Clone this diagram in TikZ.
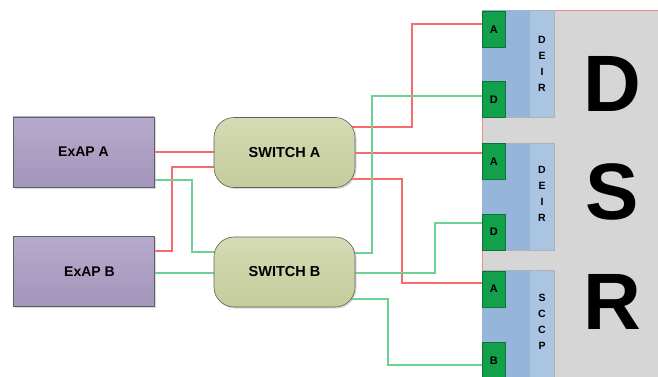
\documentclass[tikz,border=0pt]{standalone}
\usepackage{fontspec}
\setmainfont{Liberation Sans}
\usetikzlibrary{backgrounds,shadows}
\definecolor{exapT}{HTML}{B7AACC}
\definecolor{exapB}{HTML}{A395BB}
\definecolor{swT}{HTML}{D5DBB3}
\definecolor{swB}{HTML}{C4CC9C}
\definecolor{dsrgray}{HTML}{D6D6D6}
\definecolor{bluel}{HTML}{A9C5E2}
\definecolor{blued}{HTML}{95B5DA}
\definecolor{portg}{HTML}{12A04A}
\definecolor{portgd}{HTML}{0B7535}
\definecolor{redl}{HTML}{F76B6B}
\definecolor{greenl}{HTML}{6BD392}
\begin{document}
\begin{tikzpicture}[x=1pt,y=-1pt,
  exap/.style={draw=gray!75!black, line width=0.6pt, top color=exapT, bottom color=exapB,
    minimum width=141pt, minimum height=70pt, inner sep=0pt,
    font=\bfseries\fontsize{14}{16}\selectfont,
    drop shadow={shadow xshift=1.5pt, shadow yshift=-1.5pt, fill=gray!60}},
  switchbox/.style={draw=gray!75!black, line width=0.6pt, top color=swT, bottom color=swB,
    rounded corners=20pt, minimum width=141pt, minimum height=70pt, inner sep=0pt,
    font=\bfseries\fontsize{14.5}{16}\selectfont,
    drop shadow={shadow xshift=1.5pt, shadow yshift=-1.5pt, fill=gray!60}},
  blueblock/.style={fill=bluel, draw=gray!60, line width=0.4pt, anchor=north west,
    minimum width=72pt, minimum height=107pt, inner sep=0pt},
  blueband/.style={fill=blued, anchor=north west, minimum width=48pt,
    minimum height=106.5pt, inner sep=0pt},
  port/.style={fill=portg, draw=portgd, line width=0.5pt, anchor=north west,
    minimum width=23pt, minimum height=36pt, inner sep=0pt,
    font=\bfseries\fontsize{11}{12}\selectfont},
  vtext/.style={font=\bfseries\fontsize{10.5}{16}\selectfont, align=center, inner sep=0pt},
  bigletter/.style={font=\bfseries\fontsize{80}{80}\selectfont, inner sep=0pt},
  redc/.style={line width=1.2pt, draw=redl},
  greenc/.style={line width=1.2pt, draw=greenl}
]
\useasboundingbox (0,0) rectangle (658,377);

% DSR background
\node[fill=dsrgray, draw=redl!80, line width=1pt, anchor=north west,
  minimum width=180pt, minimum height=370pt, inner sep=0pt] (dsr) at (482,10) {};

% blocks
\node[blueblock] (deir1) at (482,10) {};
\node[blueband] (band1) at (482,10.3) {};
\node[vtext] (t1) at (542,63.5) {D\\E\\I\\R};
\node[port] (pA1) at (482,11) {A};
\node[port] (pD1) at (482,81.5) {D};

\node[blueblock] (deir2) at (482,143) {};
\node[blueband] (band2) at (482,143.3) {};
\node[vtext] (t2) at (542,194) {D\\E\\I\\R};
\node[port] (pA2) at (482,143) {A};
\node[port] (pD2) at (482,213.5) {D};

\node[blueblock, minimum height=110pt] (sccp) at (482,270) {};
\node[blueband, minimum height=110pt] (band3) at (482,270.3) {};
\node[vtext] (t3) at (542,322) {S\\C\\C\\P};
\node[port] (pA3) at (482,270.5) {A};
\node[port, minimum height=37pt] (pB3) at (482,342) {B};

\node[bigletter] (bD) at (612,84) {D};
\node[bigletter] (bS) at (612,192) {S};
\node[bigletter] (bR) at (612,302) {R};

% ExAP and switches
\node[exap] (exA) at (83.5,152) {ExAP A};
\node[exap] (exB) at (83.5,271.5) {\hspace*{12pt}ExAP B};
\node[switchbox] (sA) at (284.5,152.5) {SWITCH A};
\node[switchbox] (sB) at (284.5,272) {SWITCH B};

% connectors
\begin{scope}[on background layer]
\draw[redc] (exA |- 0,152) -- (sA |- 0,152);
\draw[redc] (exB |- 0,251) -| (172,167) -- (sA |- 0,167);
\draw[greenc] (exA |- 0,180) -| (192,252) -- (sB |- 0,252);
\draw[greenc] (exB |- 0,273) -- (sB |- 0,273);
\draw[redc] (sA |- 0,127) -| (412,24) -- (pA1.west |- 0,24);
\draw[redc] (sA |- 0,153) -- (pA2.west |- 0,153);
\draw[redc] (sA |- 0,179) -| (402,283) -- (pA3.west |- 0,283);
\draw[greenc] (sB |- 0,253) -| (372,96) -- (pD1.west |- 0,96);
\draw[greenc] (sB |- 0,273) -| (435,223) -- (pD2.west |- 0,223);
\draw[greenc] (sB |- 0,299) -| (388,365) -- (pB3.west |- 0,365);
\end{scope}
\end{tikzpicture}
\end{document}
